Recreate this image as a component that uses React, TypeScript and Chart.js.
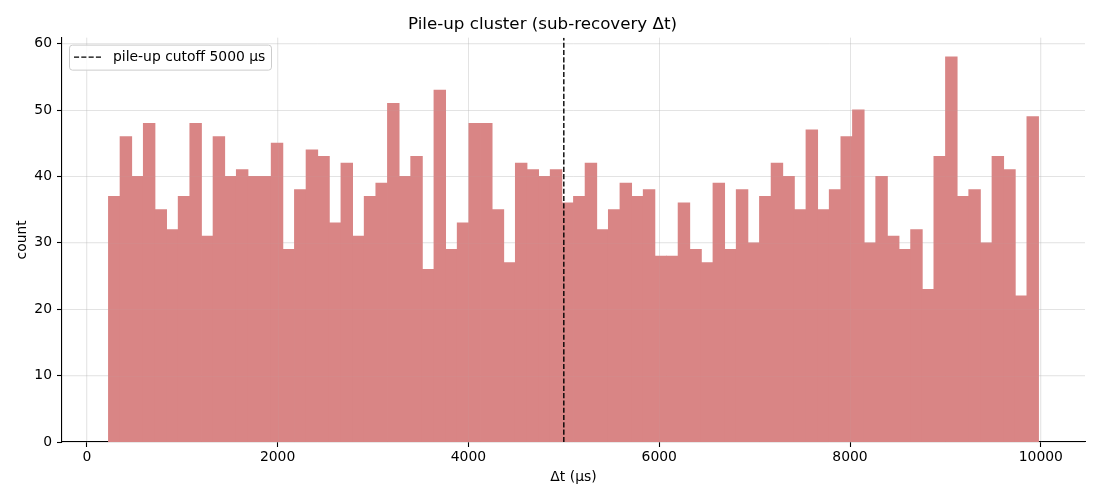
import React, { useEffect, useRef } from "react";
import { Chart, registerables } from "chart.js";

Chart.register(...registerables);

const TITLE = "Pile-up cluster (sub-recovery Δt)";
const X_LABEL = "Δt (µs)";
const Y_LABEL = "count";
const CUTOFF = 5000;
const CUTOFF_LABEL = "pile-up cutoff 5000 µs";

// histogram bin range (µs) and the counts per bin
const BIN_START = 227;
const BIN_END = 9976;
const COUNTS = [
  37, 46, 40, 48, 35, 32, 37, 48, 31, 46, 40, 41, 40, 40, 45, 29, 38, 44, 43, 33,
  42, 31, 37, 39, 51, 40, 43, 26, 53, 29, 33, 48, 48, 35, 27, 42, 41, 40, 41, 36,
  37, 42, 32, 35, 39, 37, 38, 28, 28, 36, 29, 27, 39, 29, 38, 30, 37, 42, 40, 35,
  47, 35, 38, 46, 50, 30, 40, 31, 29, 32, 23, 43, 58, 37, 38, 30, 43, 41, 22, 49,
];

const X_TICKS = [0, 2000, 4000, 6000, 8000, 10000];
const Y_TICKS = [0, 10, 20, 30, 40, 50, 60];
const X_MIN = -260;
const X_MAX = 10463;
const Y_MIN = 0;
const Y_MAX = 60.9;

const FONT = "'DejaVu Sans', sans-serif";
const GRID_COLOR = "rgba(176,176,176,0.29)";
const GRID_OVERLAY = "rgba(176,176,176,0.09)";

export default function App() {
  const ref = useRef<HTMLCanvasElement>(null);

  useEffect(() => {
    if (!ref.current) return;
    Chart.defaults.font.family = FONT;

    const binW = (BIN_END - BIN_START) / COUNTS.length;
    const barData = COUNTS.map((c, i) => ({ x: BIN_START + (i + 0.5) * binW, y: c }));

    // faint grid re-drawn over the (opaque) bars, so it shows through like the reference
    const gridOverlayPlugin = {
      id: "gridOverlay",
      afterDatasetDraw(chart: any, args: any) {
        if (args.index !== 1) return;
        const ctx = chart.ctx as CanvasRenderingContext2D;
        const { left, right, top, bottom } = chart.chartArea;
        const xs = chart.scales.x;
        const ys = chart.scales.y;
        ctx.save();
        ctx.strokeStyle = GRID_OVERLAY;
        ctx.lineWidth = 1;
        for (const v of X_TICKS) {
          const p = Math.round(xs.getPixelForValue(v)) + 0.5;
          ctx.beginPath();
          ctx.moveTo(p, top);
          ctx.lineTo(p, bottom);
          ctx.stroke();
        }
        for (const v of Y_TICKS) {
          if (v === Y_MIN) continue;
          const p = Math.round(ys.getPixelForValue(v)) + 0.5;
          ctx.beginPath();
          ctx.moveTo(left, p);
          ctx.lineTo(right, p);
          ctx.stroke();
        }
        ctx.restore();
      },
    };

    const legendPlugin = {
      id: "mplLegend",
      afterDraw(chart: any) {
        const ctx = chart.ctx as CanvasRenderingContext2D;
        const { left, top } = chart.chartArea;
        const bx = left + 7;
        const by = top + 7;
        const bw = 202;
        const bh = 25;
        ctx.save();
        ctx.beginPath();
        if ((ctx as any).roundRect) (ctx as any).roundRect(bx + 0.5, by + 0.5, bw, bh, 3);
        else ctx.rect(bx + 0.5, by + 0.5, bw, bh);
        ctx.fillStyle = "rgba(255,255,255,0.8)";
        ctx.fill();
        ctx.strokeStyle = "#cccccc";
        ctx.lineWidth = 1;
        ctx.stroke();
        const cy = by + bh / 2;
        ctx.beginPath();
        ctx.setLineDash([5.1, 2.2]);
        ctx.strokeStyle = "#000";
        ctx.lineWidth = 1.4;
        ctx.moveTo(bx + 5, cy);
        ctx.lineTo(bx + 33, cy);
        ctx.stroke();
        ctx.setLineDash([]);
        ctx.fillStyle = "#000";
        ctx.font = `13.9px ${FONT}`;
        ctx.textBaseline = "middle";
        ctx.textAlign = "left";
        ctx.fillText(CUTOFF_LABEL, bx + 44, cy + 0.5);
        ctx.restore();
      },
    };

    const chart = new Chart(ref.current, {
      type: "bar",
      data: {
        datasets: [
          {
            type: "line",
            label: CUTOFF_LABEL,
            data: [
              { x: CUTOFF, y: Y_MIN },
              { x: CUTOFF, y: Y_MAX },
            ],
            borderColor: "#000000",
            borderWidth: 1.4,
            borderDash: [5.1, 2.2],
            pointRadius: 0,
            fill: false,
          } as any,
          {
            type: "bar",
            label: "count",
            data: barData,
            backgroundColor: "rgb(217,133,133)",
            borderWidth: 0,
            barPercentage: 1,
            categoryPercentage: 1,
            inflateAmount: 0.4,
          } as any,
        ],
      },
      options: {
        responsive: false,
        animation: false,
        events: [],
        layout: { padding: { left: 0, right: 15, top: 0, bottom: 0 } },
        plugins: {
          legend: { display: false },
          tooltip: { enabled: false },
          title: {
            display: true,
            text: TITLE,
            color: "#000",
            font: { size: 16.7, weight: "normal", family: FONT },
            padding: { top: 15, bottom: 2.6 },
          },
        },
        scales: {
          x: {
            type: "linear",
            min: X_MIN,
            max: X_MAX,
            offset: false,
            grid: {
              offset: false,
              color: GRID_COLOR,
              lineWidth: 1,
              tickColor: "#000",
              tickLength: 5,
              tickWidth: 1.1,
            },
            border: { color: "#000", width: 1.1 },
            ticks: {
              color: "#000",
              font: { size: 13.9, family: FONT },
              padding: 2,
              maxRotation: 0,
              autoSkip: false,
              callback: (v: any) => String(v),
            },
            title: {
              display: true,
              text: X_LABEL,
              color: "#000",
              font: { size: 13.9, family: FONT },
              padding: { top: 0, bottom: 14 },
            },
            afterBuildTicks: (s: any) => {
              s.ticks = X_TICKS.map((v) => ({ value: v }));
            },
            afterFit: (s: any) => {
              s.height = 58;
            },
          },
          y: {
            type: "linear",
            min: Y_MIN,
            max: Y_MAX,
            grid: {
              color: GRID_COLOR,
              lineWidth: 1,
              tickColor: "#000",
              tickLength: 5,
              tickWidth: 1.1,
            },
            border: { color: "#000", width: 1.1 },
            ticks: {
              color: "#000",
              font: { size: 13.9, family: FONT },
              padding: 5,
              autoSkip: false,
              callback: (v: any) => String(v),
            },
            title: {
              display: true,
              text: Y_LABEL,
              color: "#000",
              font: { size: 13.9, family: FONT },
              padding: { top: 13.7, bottom: 0 },
            },
            afterBuildTicks: (s: any) => {
              s.ticks = Y_TICKS.map((v) => ({ value: v }));
            },
            afterFit: (s: any) => {
              s.width = 62;
            },
          },
        },
      } as any,
      plugins: [gridOverlayPlugin, legendPlugin],
    });

    return () => chart.destroy();
  }, []);

  return (
    <div style={{ position: "fixed", left: 0, top: 0, width: 1100, height: 500, background: "#ffffff" }}>
      <canvas ref={ref} width={1100} height={500} style={{ width: 1100, height: 500, display: "block" }} />
    </div>
  );
}
